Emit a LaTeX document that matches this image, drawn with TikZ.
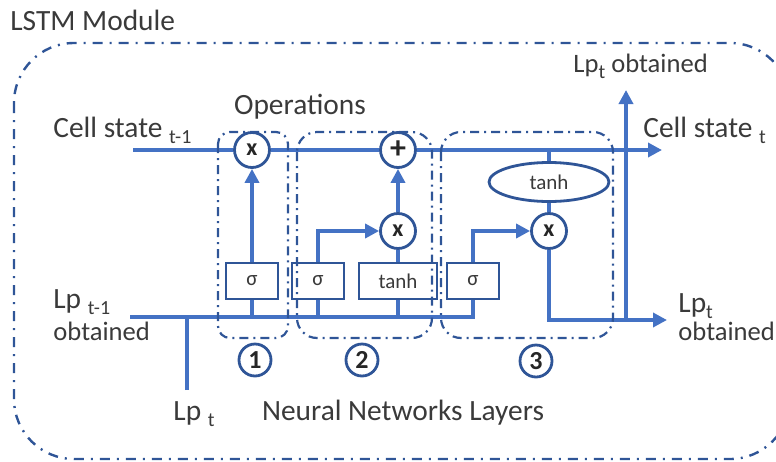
\documentclass[tikz,border=0pt]{standalone}
\usepackage{fontspec}
\setmainfont{Carlito}
\usetikzlibrary{arrows.meta, shapes.geometric}

\definecolor{lineblue}{HTML}{4472C4}
\definecolor{darkblue}{HTML}{2F5597}
\definecolor{textgray}{HTML}{3A3A3A}
\newcommand{\lsub}[1]{\raisebox{-3pt}{\fontsize{10}{10}\selectfont #1}}

\tikzset{
	flow/.style = {draw = lineblue, line width = 2pt},
	arr/.style = {flow, -{Triangle[length = 7pt, width = 7pt]}},
	gate/.style = {draw = darkblue, line width = 1.4pt, minimum width = 26pt, minimum height = 18pt,
		inner sep = 0pt, font = \fontsize{10.5}{12}\selectfont, text = textgray},
	op/.style = {circle, draw = darkblue, line width = 1.4pt, fill = white, minimum size = 17.5pt,
		inner sep = 0pt, font = \bfseries\fontsize{12}{12}\selectfont, text = black!85},
	num/.style = {circle, draw = darkblue, line width = 1.4pt, minimum size = 16pt,
		inner sep = 0pt, font = \bfseries\fontsize{13}{13}\selectfont, text = black!85},
	group/.style = {draw = darkblue, line width = 1.1pt, dash pattern = on 4.5pt off 2.5pt on 1pt off 2.5pt},
	module/.style = {draw = darkblue, line width = 1.2pt, dash pattern = on 5pt off 3.5pt on 1pt off 3.5pt,
		rounded corners = 30pt},
	txt/.style = {text = textgray, font = \fontsize{14.7}{16}\selectfont, inner sep = 0pt},
	narrow/.style = {txt, font = \fontsize{13.3}{16}\selectfont}
}

\begin{document}
\begin{tikzpicture}[x = 0.5pt, y = -0.5pt]
	\useasboundingbox (0, 0) rectangle (776, 461);
	\draw[module] (14, 43) rectangle (790, 459);
	
	% operations and gates
	\node[op] (fx) at (252, 150) {x};
	\node[op, font = \bfseries\fontsize{16}{16}\selectfont] (ax) at (398, 150) {+};
	\node[op] (ix) at (398, 231) {x};
	\node[op] (ox) at (549, 231) {x};
	\node[gate] (fg) at (252, 281) {σ};
	\node[gate] (ig) at (318, 281) {σ};
	\node[gate, minimum width = 39pt] (cg) at (398, 281) {tanh};
	\node[gate] (og) at (473, 281) {σ};
	\node[ellipse, draw = darkblue, line width = 1.4pt, minimum width = 60pt, minimum height = 19.5pt,
		inner sep = 0pt, font = \fontsize{10.5}{12}\selectfont, text = textgray] (th) at (549, 182) {tanh};
	
	\coordinate (csin) at (133, 150);
	\coordinate (csout) at (662, 150);
	\coordinate (lpin) at (130, 317);
	\coordinate (lpt) at (187, 390);
	\coordinate (lpout) at (667, 320);
	\coordinate (lpup) at (626, 90);
	
	% cell state line
	\draw[flow] (csin) -- (fx);
	\draw[flow] (fx) -- (ax);
	\draw[arr] (ax) -- (csout);
	
	% input line
	\draw[flow] (lpin) -| (og.south);
	\draw[flow] (lpt) -- (lpt |- lpin);
	\foreach \g in {fg, ig, cg} {
		\draw[flow] (\g.south) -- (\g.south |- lpin);
	}
	
	\draw[arr] (fg) -- (fx);
	\draw[arr] (ig.north) |- (ix.west);
	\draw[flow] (cg) -- (ix);
	\draw[arr] (ix) -- (ax);
	\draw[arr] (og.north) |- (ox.west);
	\draw[flow] (th.north) -- (th.north |- csin);
	\draw[flow] (th) -- (ox);
	\draw[arr] (ox.south) |- (lpout);
	\draw[arr] (lpup |- lpout) -- (lpup);
	
	% layer groups
	\draw[group, rounded corners = 6pt] (218, 132) rectangle (288, 338);
	\draw[group, rounded corners = 10pt] (297, 132) rectangle (432, 338);
	\draw[group, rounded corners = 10pt] (441, 132) rectangle (613, 338);
	
	\node[num] (n1) at (255, 360) {1};
	\node[num] (n2) at (362, 360) {2};
	\node[num] (n3) at (536, 361) {3};
	
	% labels
	\node[txt, anchor = base west] (title) at (10, 30) {LSTM Module};
	\node[txt, anchor = base] (ops) at (300, 114) {Operations};
	\node[txt, anchor = base west] (csprev) at (53, 137) {Cell state \lsub{t-1}};
	\node[txt, anchor = base west] (csnext) at (643, 137) {Cell state \lsub{t}};
	\node[narrow, anchor = base west] (lpobt) at (573, 72) {Lp\lsub{t} obtained};
	\node[txt, anchor = base west] (lpprev) at (53, 308) {Lp \lsub{t-1}};
	\node[narrow, anchor = base west] (lpprevb) at (53, 340) {obtained};
	\node[txt, anchor = base west] (lpnext) at (678, 312) {Lp\lsub{t}};
	\node[narrow, anchor = base west] (lpnextb) at (678, 340) {obtained};
	\node[txt, anchor = base west] (lpcur) at (173, 420) {Lp \lsub{t}};
	\node[txt, anchor = base] (layers) at (403, 420) {Neural Networks Layers};
\end{tikzpicture}
\end{document}
